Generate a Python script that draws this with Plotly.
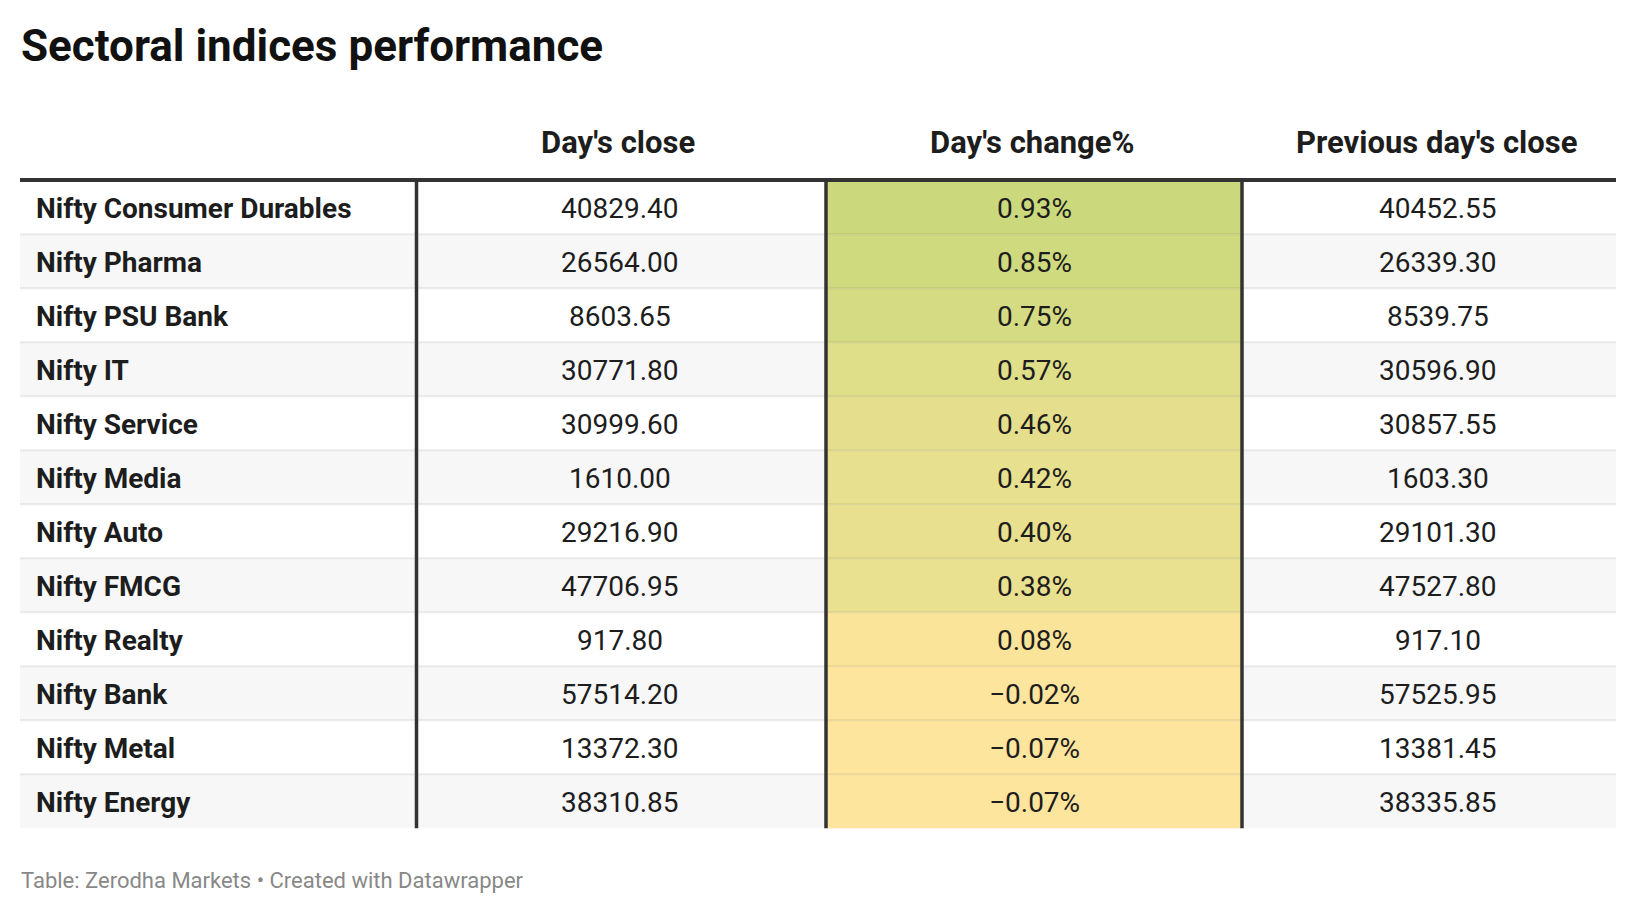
import plotly.graph_objects as go

title = "Sectoral indices performance"
footer = "Table: Zerodha Markets • Created with Datawrapper"
headers = ["", "Day's close", "Day's change%", "Previous day's close"]
sectors = ["Nifty Consumer Durables", "Nifty Pharma", "Nifty PSU Bank", "Nifty IT",
           "Nifty Service", "Nifty Media", "Nifty Auto", "Nifty FMCG", "Nifty Realty",
           "Nifty Bank", "Nifty Metal", "Nifty Energy"]
day_close = [40829.40, 26564.00, 8603.65, 30771.80, 30999.60, 1610.00, 29216.90,
             47706.95, 917.80, 57514.20, 13372.30, 38310.85]
day_change = [0.93, 0.85, 0.75, 0.57, 0.46, 0.42, 0.40, 0.38, 0.08, -0.02, -0.07, -0.07]
prev_close = [40452.55, 26339.30, 8539.75, 30596.90, 30857.55, 1603.30, 29101.30,
              47527.80, 917.10, 57525.95, 13381.45, 38335.85]

W, H = 1636, 914
FONT = "Roboto"
DARK = "#333333"
TXT = "#1d1d1d"

# layout geometry (pixels; page body adds an 8px offset)
x_left, x_right = 12, 1608
col_edges = [x_left, 408.5, 818, 1234, x_right]
text_centers = [None, 612, 1026, 1430]
header_centers = [None, 610, 1024, 1428]
label_x = 26
top_line_y = 172
row_top0 = 172.3
row_h = 54
n = len(sectors)
bottom_y = row_top0 + n * row_h

# colour scale for day's change column (yellow at <=0 to green at max)
c_lo = (254, 229, 157)
c_hi = (203, 217, 124)
vmax = max(day_change)


def cell_color(v):
    t = max(0.0, v) / vmax
    r, g, b = (round(c_lo[k] + (c_hi[k] - c_lo[k]) * t) for k in range(3))
    return f"rgb({r},{g},{b})"


def fmt_pct(v):
    s = f"{abs(v):.2f}%"
    return ("\u2212" + s) if v < 0 else s


shapes = []
annotations = []
BODY = 28

for i in range(n):
    y0 = row_top0 + i * row_h
    y1 = y0 + row_h
    if i % 2 == 1:
        shapes.append(dict(type="rect", x0=x_left, x1=x_right, y0=y0, y1=y1,
                           fillcolor="#f7f7f7", line_width=0, layer="below"))
    shapes.append(dict(type="rect", x0=col_edges[2], x1=col_edges[3], y0=y0, y1=y1,
                       fillcolor=cell_color(day_change[i]), line_width=0, layer="below"))
    if i > 0:
        shapes.append(dict(type="line", x0=x_left, x1=x_right, y0=y0, y1=y0,
                           line=dict(color="rgba(0,0,0,0.07)", width=2)))
    yc = (y0 + y1) / 2 + 1.5
    annotations.append(dict(x=label_x, y=yc, text=f"<b>{sectors[i]}</b>", xanchor="left",
                            yanchor="middle", showarrow=False,
                            font=dict(family=FONT, size=BODY, color=TXT)))
    vals = [f"{day_close[i]:.2f}", fmt_pct(day_change[i]), f"{prev_close[i]:.2f}"]
    for j, v in enumerate(vals):
        annotations.append(dict(x=text_centers[j + 1], y=yc, text=v, xanchor="center",
                                yanchor="middle", showarrow=False,
                                font=dict(family=FONT, size=BODY, color=TXT)))

# separators
for xe in col_edges[1:4]:
    shapes.append(dict(type="line", x0=xe, x1=xe, y0=top_line_y, y1=bottom_y,
                       line=dict(color=DARK, width=3.5)))
shapes.append(dict(type="line", x0=x_left, x1=x_right, y0=top_line_y, y1=top_line_y,
                   line=dict(color=DARK, width=4)))

for j in range(1, 4):
    annotations.append(dict(x=header_centers[j], y=134.5, text=f"<b>{headers[j]}</b>",
                            xanchor="center", yanchor="middle", showarrow=False,
                            font=dict(family=FONT, size=31, color=TXT)))

annotations.append(dict(x=10.5, y=38, text=f"<b>{title}</b>", xanchor="left",
                        yanchor="middle", showarrow=False,
                        font=dict(family=FONT, size=44, color="#111111")))
annotations.append(dict(x=10.5, y=872, text=footer, xanchor="left", yanchor="middle",
                        showarrow=False, font=dict(family=FONT, size=22, color="#888888")))

fig = go.Figure()
fig.update_layout(
    width=W, height=H, margin=dict(l=0, r=0, t=0, b=0),
    paper_bgcolor="white", plot_bgcolor="white",
    xaxis=dict(range=[0, W], visible=False, fixedrange=True),
    yaxis=dict(range=[H, 0], visible=False, fixedrange=True),
    shapes=shapes, annotations=annotations, showlegend=False,
)
fig.write_html("out.html", config={"displayModeBar": False})
